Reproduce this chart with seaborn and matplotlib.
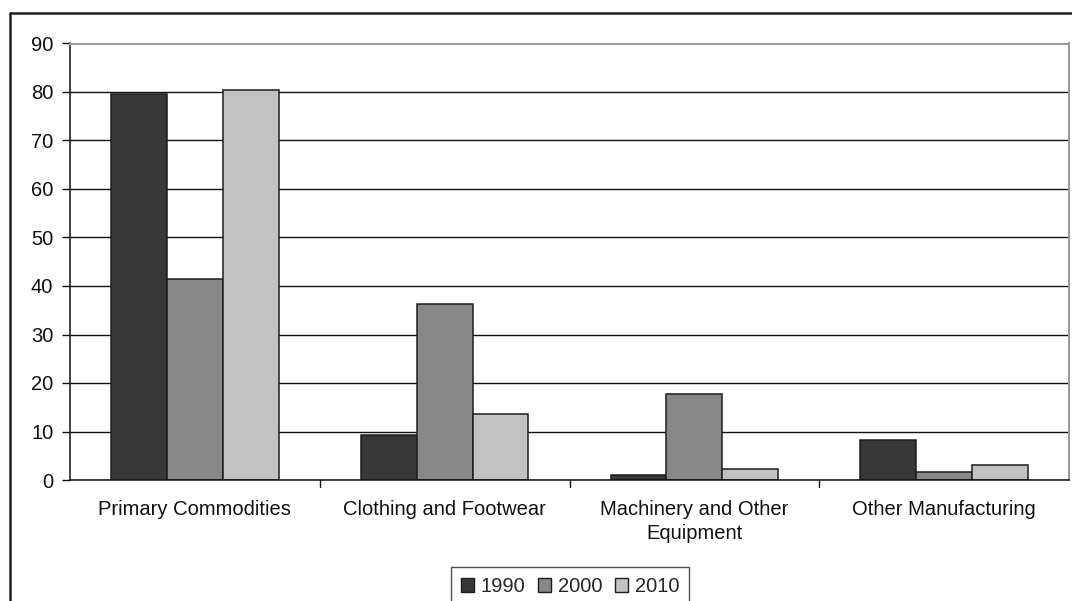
import matplotlib
matplotlib.use("Agg")
import matplotlib.pyplot as plt
from matplotlib.lines import Line2D
import seaborn as sns
import pandas as pd

categories = ["Primary Commodities", "Clothing and Footwear",
              "Machinery and Other\nEquipment", "Other Manufacturing"]
years = ["1990", "2000", "2010"]
values_1990 = [79.6, 9.3, 1.0, 8.2]
values_2000 = [41.4, 36.3, 17.7, 1.7]
values_2010 = [80.4, 13.6, 2.3, 3.0]
y_ticks = [0, 10, 20, 30, 40, 50, 60, 70, 80, 90]

series = {"1990": values_1990, "2000": values_2000, "2010": values_2010}
df = pd.DataFrame(
    [(cat, yr, val) for yr in years for cat, val in zip(categories, series[yr])],
    columns=["category", "year", "share"],
)

sns.set_theme(style="white")
plt.rcParams["font.family"] = ["Liberation Sans", "DejaVu Sans"]

W, H = 1072, 601
fig = plt.figure(figsize=(W / 100, H / 100), dpi=100)
ax = fig.add_axes([70 / W, 1 - 480 / H, (1069 - 70) / W, (480 - 43.5) / H])

palette = {"1990": "#383838", "2000": "#888888", "2010": "#c2c2c2"}
sns.barplot(data=df, x="category", y="share", hue="year", order=categories,
            hue_order=years, palette=palette, width=0.67, gap=0,
            edgecolor="#1e1e1e", linewidth=1.1, saturation=1, ax=ax, zorder=3)

ax.set_xlim(-0.5, len(categories) - 0.5)
ax.set_ylim(0, 90)
ax.set_yticks(y_ticks)
ax.set_yticklabels([str(t) for t in y_ticks], fontsize=14.5, color="#111111")
ax.yaxis.grid(True, color="#111111", linewidth=1.0, zorder=0)
ax.set_axisbelow(True)

# category labels centred under each group, ticks on the group boundaries
ax.set_xticks(range(len(categories)))
ax.set_xticklabels(categories, fontsize=14.5, color="#111111", linespacing=1.35)
ax.tick_params(axis="x", length=0, pad=14.5)
for b in [0.5, 1.5, 2.5]:
    ax.plot([b, b], [0, -0.016], transform=ax.get_xaxis_transform(),
            color="#111111", linewidth=1.0, clip_on=False)
ax.tick_params(axis="y", length=6, width=1.0, color="#111111", left=True, pad=6)

ax.set_xlabel("")
ax.set_ylabel("")

for side in ["left", "bottom"]:
    ax.spines[side].set_color("#111111")
    ax.spines[side].set_linewidth(1.1)
for side in ["top", "right"]:
    ax.spines[side].set_color("#9a9a9a")
    ax.spines[side].set_linewidth(1.5)
ax.spines["bottom"].set_zorder(4)

ax.legend_.remove()
handles = [plt.Rectangle((0, 0), 1, 1, facecolor=palette[y], edgecolor="#1e1e1e",
                         linewidth=1.0) for y in years]
fig.legend(handles, years, loc="upper center", bbox_to_anchor=(570 / W, 1 - 567 / H),
           ncol=3, fontsize=14.5, frameon=True, fancybox=False, edgecolor="#222222",
           handlelength=0.65, handleheight=0.65, handletextpad=0.35,
           columnspacing=0.6, borderpad=0.5, borderaxespad=0)

# outer chart frame
fx = 10 / W
fy = 1 - 12.5 / H
fig.add_artist(Line2D([fx, fx], [-0.05, fy], transform=fig.transFigure,
                      color="#222222", linewidth=1.8))
fig.add_artist(Line2D([fx, 1.05], [fy, fy], transform=fig.transFigure,
                      color="#222222", linewidth=1.8))

fig.savefig("out.png", dpi=100)
